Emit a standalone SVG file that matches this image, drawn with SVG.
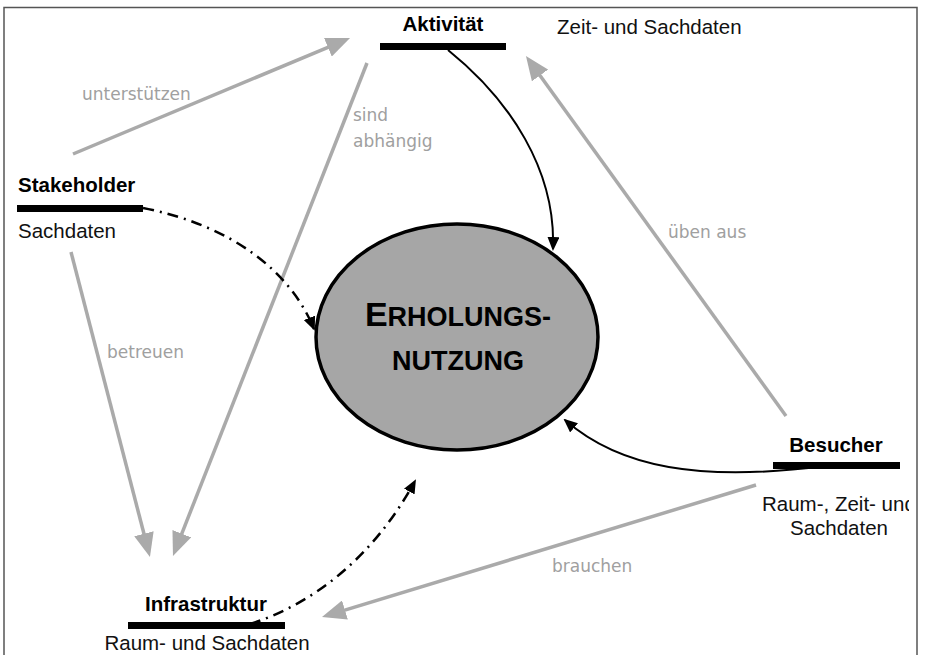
<svg xmlns="http://www.w3.org/2000/svg" width="929" height="655" viewBox="0 0 929 655">
<style>
.frame{fill:none;stroke:#555;stroke-width:1.5}
.bar{fill:#000}
.title{font-family:"Liberation Sans",Arial,sans-serif;font-weight:bold;font-size:20.5px;fill:#000}
.data{font-family:"Liberation Sans",Arial,sans-serif;font-size:20.5px;fill:#111}
.rel{fill:none;stroke:#aaa;stroke-width:3.5}
.lbl{font-family:"DejaVu Sans",sans-serif;font-size:17px;fill:#a0a0a0}
.flow{fill:none;stroke:#000;stroke-width:2}
.dd{fill:none;stroke:#000;stroke-width:2.5;stroke-dasharray:11 6 2 6}
.big{font-family:"Liberation Sans",Arial,sans-serif;font-weight:bold;font-size:27px;fill:#000}
</style>
<defs>
<marker id="ga" markerUnits="userSpaceOnUse" markerWidth="24" markerHeight="20" refX="13" refY="10" orient="auto"><path d="M0,0 L24,10 L0,20 z" fill="#aaa"/></marker>
<marker id="ba" markerUnits="userSpaceOnUse" markerWidth="14" markerHeight="12" refX="12" refY="6" orient="auto"><path d="M0,0 L14,6 L0,12 z" fill="#000"/></marker>
<clipPath id="clipR"><rect x="0" y="0" width="909" height="655"/></clipPath>
</defs>
<rect width="929" height="655" fill="#fff"/>
<path class="frame" d="M4,655 L4,7.5 L917,7.5 L917,655"/>

<g id="connectors">
<path class="rel" d="M73,154 L339.9,42.3" marker-end="url(#ga)"/>
<path class="rel" d="M367,63 L177,545.8" marker-end="url(#ga)"/>
<path class="rel" d="M71,252 L147.2,546.3" marker-end="url(#ga)"/>
<path class="rel" d="M786,416 L532.4,64.9" marker-end="url(#ga)"/>
<path class="rel" d="M756,485 L332.5,613.8" marker-end="url(#ga)"/>
<path class="flow" d="M448,50 C510,100 556,170 553,249" marker-end="url(#ba)"/>
<path class="flow" d="M825,466 C700,482 620,468 565,420" marker-end="url(#ba)"/>
<path class="dd" d="M143,208 C230,225 290,270 314,329" marker-end="url(#ba)"/>
<path class="dd" d="M250,624 C310,605 372,560 415,481" marker-end="url(#ba)"/>
<text class="lbl" x="82" y="100">unterstützen</text>
<text class="lbl" x="353" y="121" font-size="18">sind</text>
<text class="lbl" x="353" y="147" font-size="18">abhängig</text>
<text class="lbl" x="107" y="358">betreuen</text>
<text class="lbl" x="668" y="238" font-size="19">üben aus</text>
<text class="lbl" x="552" y="572" font-size="19">brauchen</text>
</g>

<g id="erholungsnutzung">
<ellipse cx="457" cy="337" rx="141" ry="113" fill="#a6a6a6" stroke="#000" stroke-width="3.5"/>
<text class="big" x="458" y="326" text-anchor="middle"><tspan font-size="34">E</tspan>RHOLUNGS-</text>
<text class="big" x="458" y="370" text-anchor="middle">NUTZUNG</text>
</g>

<g id="aktivitaet">
<text class="title" x="443" y="31" text-anchor="middle" font-size="21">Aktivität</text>
<rect class="bar" x="380" y="43" width="126" height="7"/>
<text class="data" x="557" y="34" font-size="21">Zeit- und Sachdaten</text>
</g>

<g id="stakeholder">
<text class="title" x="18" y="192">Stakeholder</text>
<rect class="bar" x="17" y="205" width="126" height="7"/>
<text class="data" x="18" y="238">Sachdaten</text>
</g>

<g id="infrastruktur">
<text class="title" x="206" y="611" text-anchor="middle">Infrastruktur</text>
<rect class="bar" x="128" y="622" width="157" height="7"/>
<text class="data" x="207" y="650" text-anchor="middle" font-size="21">Raum- und Sachdaten</text>
</g>

<g id="besucher">
<text class="title" x="836" y="452" text-anchor="middle">Besucher</text>
<rect class="bar" x="773" y="462" width="127" height="7"/>
<g clip-path="url(#clipR)">
<text class="data" x="762" y="511" font-size="22">Raum-, Zeit- und</text>
<text class="data" x="839" y="535" text-anchor="middle" font-size="21">Sachdaten</text>
</g>
</g>
</svg>
